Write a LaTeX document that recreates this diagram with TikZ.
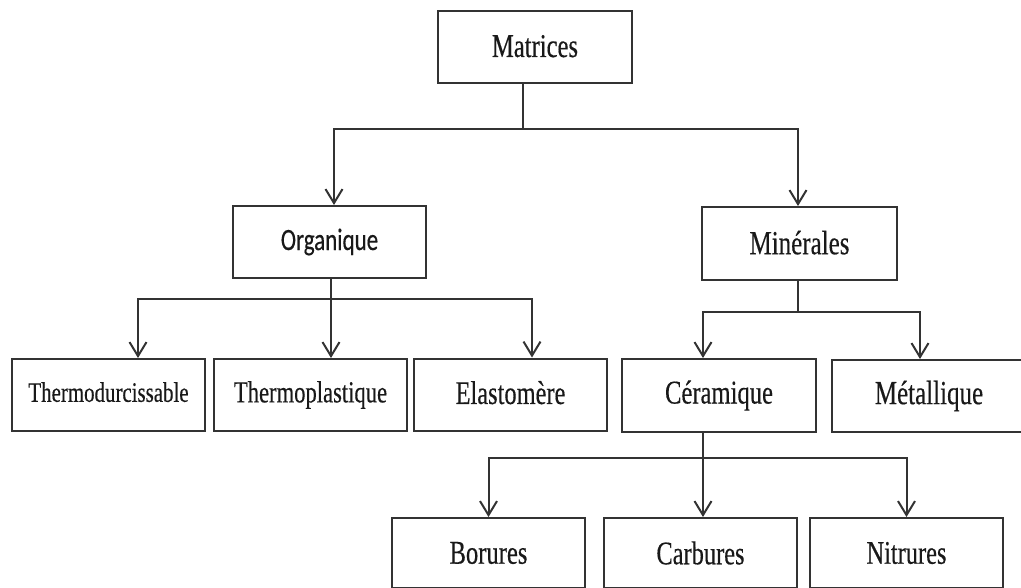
\documentclass[tikz,border=0pt]{standalone}
\usepackage{fontspec}
\setmainfont{Liberation Serif}[FakeBold=0.4]
\newfontfamily\calib{Carlito}[FakeBold=0.4]
\usetikzlibrary{arrows.meta}
\newcommand{\tx}[2]{\fontsize{#1}{#1}\selectfont\scalebox{1}[1.35]{#2}}
\begin{document}
\begin{tikzpicture}[x=1pt,y=-1pt,
  box/.style={draw=black!80, line width=2pt, inner sep=0pt, minimum height=72pt, text=black!90},
  conn/.style={draw=black!80, line width=2pt},
  arr/.style={conn, -{Straight Barb[length=14pt,width=17pt,line width=2pt]}}]
\useasboundingbox[fill=white] (0,0) rectangle (1021,588);
% level 0
\node[box, minimum width=194pt] (mat) at (535,47) {\raisebox{2pt}{\tx{24.6}{Matrices}}};
% level 1
\node[box, minimum width=193pt] (org) at (329.5,242) {\raisebox{1pt}{\calib\tx{23}{Organique}}};
\node[box, minimum width=195pt, minimum height=73pt] (min) at (799.5,243.5) {\raisebox{2pt}{\tx{25}{Minérales}}};
% level 2
\node[box, minimum width=193pt] (td) at (108.5,395) {\raisebox{6pt}{\tx{20.9}{Thermodurcissable}}};
\node[box, minimum width=193pt] (tp) at (310.5,395) {\raisebox{5pt}{\tx{22.6}{Thermoplastique}}};
\node[box, minimum width=193pt] (el) at (510.5,394.5) {\raisebox{4pt}{\tx{24.4}{Elastomère}}};
\node[box, minimum width=194pt, minimum height=73pt] (cer) at (719,395.5) {\raisebox{5pt}{\tx{24.6}{Céramique}}};
\node[box, minimum width=194pt] (met) at (929,396) {\raisebox{3pt}{\tx{25}{Métallique}}};
% level 3
\node[box, minimum width=193pt, minimum height=70pt] (bor) at (488.5,553) {\tx{24.6}{Borures}};
\node[box, minimum width=193pt, minimum height=70pt] (car) at (700.5,553) {\tx{24.4}{Carbures}};
\node[box, minimum width=193pt, minimum height=70pt] (nit) at (906.5,553) {\tx{24.4}{Nitrures}};
% junctions
\coordinate (j1) at (523,129);
\coordinate (j2) at (331,299);
\coordinate (j3) at (798,312);
\coordinate (j4) at (703,458);
% connectors
\draw[conn] (mat.south -| j1) -- (j1);
\draw[arr] (j1) -| ([xshift=4.5pt]org.north);
\draw[arr] (j1) -| ([xshift=-1.5pt]min.north);
\draw[conn] (org.south -| j2) -- (j2);
\draw[arr] (j2) -| ([xshift=29.5pt]td.north);
\draw[arr] (j2) -- (tp.north -| j2);
\draw[arr] (j2) -| ([xshift=21.5pt]el.north);
\draw[conn] (min.south -| j3) -- (j3);
\draw[arr] (j3) -| ([xshift=-16pt]cer.north);
\draw[arr] (j3) -| ([xshift=-9pt]met.north);
\draw[conn] (cer.south -| j4) -- (j4);
\draw[arr] (j4) -| (bor.north);
\draw[arr] (j4) -- (car.north -| j4);
\draw[arr] (j4) -| (nit.north);
\end{tikzpicture}
\end{document}
